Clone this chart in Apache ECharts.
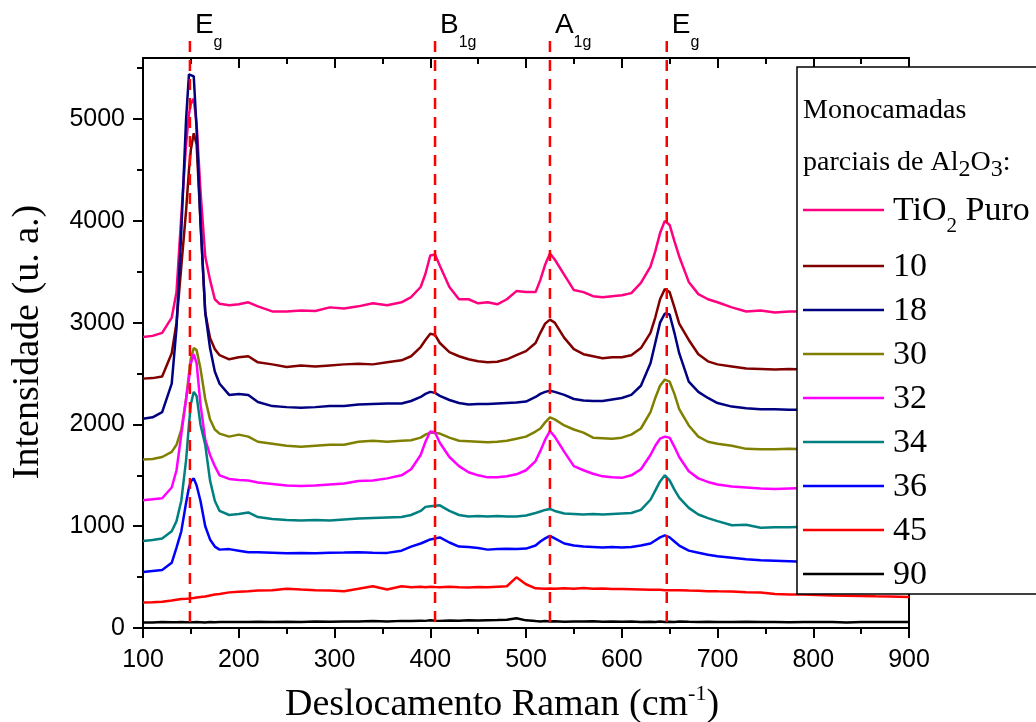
<!DOCTYPE html>
<html>
<head>
<meta charset="utf-8">
<script src="https://cdn.jsdelivr.net/npm/echarts@6/dist/echarts.min.js"></script>
<style>
  html, body { margin: 0; padding: 0; background: #fff; }
  #chart { width: 1036px; height: 722px; }
</style>
</head>
<body>
<div id="chart"></div>
<script>
// Raman shift (cm-1) sampled for every spectrum
const ramanShift = [100,110,120,130,135,140,145,148,150,153,156,160,165,170,175,180,190,200,210,220,235,250,265,280,295,310,325,340,355,370,380,390,395,400,405,410,420,430,440,450,460,470,480,490,500,510,515,520,525,530,540,550,560,570,580,590,600,610,620,630,635,640,645,650,655,660,670,680,690,700,715,730,745,760,775,790,805,820,835,850,865,880,900];

// Intensities (u. a.), one array per sample
const tio2Puro = [2860,2870,2900,3050,3300,4050,4750,5050,5150,5200,
  4950,4300,3650,3420,3230,3185,3170,3180,3200,3160,
  3110,3110,3120,3115,3150,3140,3160,3190,3170,3200,
  3250,3350,3480,3660,3670,3560,3350,3230,3230,3190,
  3200,3180,3230,3310,3300,3300,3420,3570,3680,3620,
  3470,3320,3300,3260,3250,3260,3270,3290,3390,3550,
  3700,3880,4000,3960,3800,3650,3400,3280,3230,3200,
  3150,3110,3120,3100,3110,3110,3100,3100,3090,3100,
  3090,3080,3080];
const mono10 = [2450,2455,2470,2700,3000,3550,4100,4500,4700,4860,
  4750,4000,3100,2850,2740,2680,2640,2660,2670,2610,
  2590,2565,2580,2570,2580,2590,2595,2590,2610,2630,
  2670,2760,2830,2890,2880,2800,2710,2670,2640,2620,
  2610,2615,2640,2680,2720,2800,2900,2990,3030,3000,
  2850,2740,2690,2670,2650,2660,2660,2680,2750,2900,
  3050,3230,3330,3300,3150,2990,2830,2690,2620,2590,
  2570,2550,2545,2540,2545,2540,2540,2535,2530,2530,
  2525,2520,2520];
const mono18 = [2055,2070,2120,2400,2950,3900,5000,5440,5440,5420,
  4900,4000,3100,2750,2520,2400,2290,2300,2290,2220,
  2180,2170,2165,2170,2180,2180,2195,2200,2205,2205,
  2230,2270,2300,2320,2310,2280,2240,2210,2195,2200,
  2200,2205,2210,2215,2225,2270,2300,2320,2330,2320,
  2290,2250,2235,2230,2230,2245,2260,2290,2380,2600,
  2800,3000,3090,3080,2900,2700,2420,2320,2260,2210,
  2175,2160,2150,2148,2145,2145,2140,2140,2135,2135,
  2130,2130,2125];
const mono30 = [1655,1660,1680,1730,1800,1950,2250,2500,2650,2750,
  2730,2550,2250,2050,1950,1910,1880,1900,1880,1830,
  1810,1790,1780,1790,1800,1800,1830,1840,1830,1840,
  1845,1870,1900,1920,1915,1910,1870,1840,1835,1830,
  1825,1830,1840,1860,1880,1930,1960,2020,2070,2050,
  1990,1950,1920,1870,1865,1860,1870,1900,1960,2120,
  2260,2380,2440,2420,2300,2150,1990,1880,1830,1810,
  1790,1760,1755,1755,1760,1755,1750,1750,1745,1745,
  1740,1740,1740];
const mono32 = [1255,1265,1275,1380,1550,1900,2250,2450,2600,2690,
  2600,2200,1850,1700,1590,1500,1465,1455,1450,1430,
  1415,1400,1395,1400,1410,1420,1445,1450,1470,1500,
  1560,1700,1830,1930,1920,1820,1680,1590,1530,1500,
  1480,1480,1490,1510,1550,1640,1740,1850,1935,1880,
  1730,1590,1550,1515,1490,1480,1475,1500,1560,1700,
  1790,1860,1880,1870,1780,1680,1540,1470,1435,1410,
  1390,1380,1370,1365,1370,1375,1370,1370,1365,1365,
  1360,1360,1360];
const mono34 = [855,865,880,950,1050,1250,1650,2000,2200,2320,
  2280,2000,1800,1450,1250,1150,1110,1120,1135,1090,
  1070,1060,1055,1060,1055,1065,1075,1080,1085,1090,
  1110,1150,1190,1195,1200,1205,1150,1110,1095,1100,
  1095,1100,1095,1095,1105,1130,1145,1160,1170,1150,
  1125,1120,1115,1120,1115,1120,1125,1130,1160,1260,
  1350,1440,1500,1450,1360,1280,1180,1115,1080,1050,
  1010,1015,985,990,990,995,990,985,990,985,
  985,980,980];
const mono36 = [550,560,570,640,790,950,1230,1380,1440,1470,
  1400,1250,1000,870,800,770,775,760,745,745,
  740,735,738,735,740,742,745,740,738,760,
  800,830,850,870,880,890,840,800,795,785,
  770,775,778,775,780,810,850,880,905,880,
  830,810,800,795,790,795,790,795,810,830,
  860,890,910,890,850,810,760,740,720,705,
  690,675,665,660,655,650,650,645,645,640,
  640,640,635];
const mono45 = [250,252,258,270,278,285,288,290,290,295,
  300,305,310,320,330,335,350,355,360,368,
  370,385,378,372,368,362,385,410,378,410,
  400,405,400,405,402,400,405,400,398,402,
  400,405,410,498,430,390,388,385,388,385,
  390,386,392,385,388,384,382,380,378,376,
  375,375,372,372,370,372,368,365,362,360,
  358,352,348,335,330,328,325,320,318,315,
  312,310,305];
const mono90 = [55,55,58,57,56,58,57,56,55,57,
  58,57,55,58,57,58,60,58,60,62,
  60,62,60,63,62,65,63,68,65,70,
  68,72,70,75,72,70,74,72,75,73,
  76,78,82,95,75,68,65,68,64,66,
  62,65,63,66,62,64,62,65,60,62,
  60,63,60,62,60,63,61,60,62,60,
  58,61,58,60,57,60,58,60,55,60,
  58,60,58];

const seriesNames = ['TiO2 Puro', '10', '18', '30', '32', '34', '36', '45', '90'];
const seriesValues = [tio2Puro, mono10, mono18, mono30, mono32, mono34, mono36, mono45, mono90];
const seriesColors = ['#FF0080', '#800000', '#000080', '#808000', '#FF00FF', '#008080', '#0000FF', '#FF0000', '#000000'];

// Axis ticks
const xTickInterval = 100;
const yMajorTicks = [0, 1000, 2000, 3000, 4000, 5000];

// Phonon modes of anatase marked with dashed lines
const modePositions = [149, 405, 525, 647];
const modeSymbol = ['E', 'B', 'A', 'E'];
const modeIndex = ['g', '1g', '1g', 'g'];

const chart = echarts.init(document.getElementById('chart'), null, { renderer: 'canvas' });

const black = '#000';
const sansFont = "'Liberation Sans', Arial, sans-serif";
const serifFont = "'Liberation Serif', 'Times New Roman', serif";

function xAxisCfg(pos) {
  const top = pos === 'top';
  return {
    type: 'value', position: pos, min: 100, max: 900, interval: xTickInterval,
    axisLine: { show: true, onZero: false, lineStyle: { color: black, width: 2 } },
    axisTick: { show: true, inside: top, length: 10, lineStyle: { color: black, width: 2 } },
    minorTick: { show: true, splitNumber: 2, length: 6, lineStyle: { color: black, width: 2 } },
    axisLabel: { show: !top, fontSize: 25, fontFamily: sansFont, color: black, margin: 20,
                 formatter: v => String(v) },
    splitLine: { show: false }
  };
}
function yAxisCfg(pos) {
  const right = pos === 'right';
  return {
    type: 'value', position: pos, min: 0, max: 5600, interval: 1000,
    axisLine: { show: true, onZero: false, lineStyle: { color: black, width: 2 } },
    axisTick: { show: true, inside: right, length: 10, customValues: yMajorTicks, lineStyle: { color: black, width: 2 } },
    minorTick: { show: true, splitNumber: 2, length: 6, lineStyle: { color: black, width: 2 } },
    axisLabel: { show: !right, customValues: yMajorTicks, fontSize: 25, fontFamily: sansFont, color: black, margin: 18,
                 formatter: v => String(v) },
    splitLine: { show: false }
  };
}

chart.setOption({
  animation: false,
  backgroundColor: '#fff',
  grid: { left: 143, right: 127, top: 58, bottom: 94, containLabel: false, outerBoundsMode: 'none' },
  xAxis: [xAxisCfg('bottom'), xAxisCfg('top')],
  yAxis: [yAxisCfg('left'), yAxisCfg('right')],
  series: seriesNames.map((name, i) => ({
    name: name,
    type: 'line',
    xAxisIndex: 0,
    yAxisIndex: 0,
    showSymbol: false,
    symbol: 'none',
    smooth: false,
    clip: true,
    lineStyle: { color: seriesColors[i], width: 2.5 },
    itemStyle: { color: seriesColors[i] },
    data: ramanShift.map((x, k) => [x, seriesValues[i][k]])
  }))
});

// Text runs with sub/superscripts: each piece is its own text element,
// placed after the measured width of the previous one.
const measureCtx = document.createElement('canvas').getContext('2d');
function textWidth(str, size, family) {
  measureCtx.font = size + 'px ' + family;
  return measureCtx.measureText(str).width;
}
function textRun(x, y, parts, family, align, z) {
  const widths = parts.map(p => textWidth(p.t, p.size, family));
  const total = widths.reduce((a, b) => a + b, 0);
  let cx = align === 'center' ? x - total / 2 : x;
  return parts.map((p, i) => {
    const el = {
      type: 'text', z: z, silent: true, x: cx, y: y + (p.dy || 0),
      style: { text: p.t, fontSize: p.size, fontFamily: family, fill: black, align: 'left', verticalAlign: 'middle' }
    };
    cx += widths[i];
    return el;
  });
}

const graphics = [];
const yBase = chart.convertToPixel({ yAxisIndex: 0 }, 0);

modePositions.forEach((pos, i) => {
  const px = chart.convertToPixel({ xAxisIndex: 0 }, pos);
  graphics.push({
    type: 'line', z: 50, silent: true,
    shape: { x1: px, y1: 41, x2: px, y2: yBase },
    style: { stroke: '#FF0000', lineWidth: 2.5, lineDash: [11, 8] }
  });
  graphics.push(...textRun(px + 5, 25, [
    { t: modeSymbol[i], size: 28 },
    { t: modeIndex[i], size: 16, dy: 18 }
  ], sansFont, 'left', 50));
});

// Axis titles
graphics.push({
  type: 'text', z: 50, silent: true, x: 28, y: 342, rotation: Math.PI / 2,
  style: { text: 'Intensidade (u. a.)', fontSize: 38, fontFamily: serifFont, fill: black, align: 'center', verticalAlign: 'middle' }
});
graphics.push(...textRun(502, 705, [
  { t: 'Deslocamento Raman (cm', size: 38 },
  { t: '-1', size: 22, dy: -11 },
  { t: ')', size: 38 }
], serifFont, 'center', 50));

// Legend panel
const legendLeft = 797, legendTop = 67, legendBottom = 594;
graphics.push({
  type: 'rect', z: 100, silent: true,
  shape: { x: legendLeft, y: legendTop, width: 260, height: legendBottom - legendTop },
  style: { fill: '#fff', stroke: black, lineWidth: 1.5 }
});
graphics.push(...textRun(803, 111, [{ t: 'Monocamadas', size: 28 }], serifFont, 'left', 101));
graphics.push(...textRun(803, 163, [
  { t: 'parciais de Al', size: 28 },
  { t: '2', size: 24, dy: 7 },
  { t: 'O', size: 28 },
  { t: '3', size: 24, dy: 7 },
  { t: ':', size: 28 }
], serifFont, 'left', 101));

const legendRowY = [210, 266, 310, 354, 398, 442, 486, 530, 574];
function legendParts(name) {
  const m = name.match(/^TiO2(.*)$/);
  return m
    ? [{ t: 'TiO', size: 34 }, { t: '2', size: 21, dy: 15 }, { t: m[1], size: 34 }]
    : [{ t: name, size: 34 }];
}
seriesNames.forEach((name, i) => {
  const y = legendRowY[i];
  graphics.push({
    type: 'line', z: 101, silent: true,
    shape: { x1: 803, y1: y, x2: 884, y2: y },
    style: { stroke: seriesColors[i], lineWidth: 2.5 }
  });
  graphics.push(...textRun(893, y + 1, legendParts(name), serifFont, 'left', 101));
});

chart.setOption({ graphic: graphics });
</script>
</body>
</html>
